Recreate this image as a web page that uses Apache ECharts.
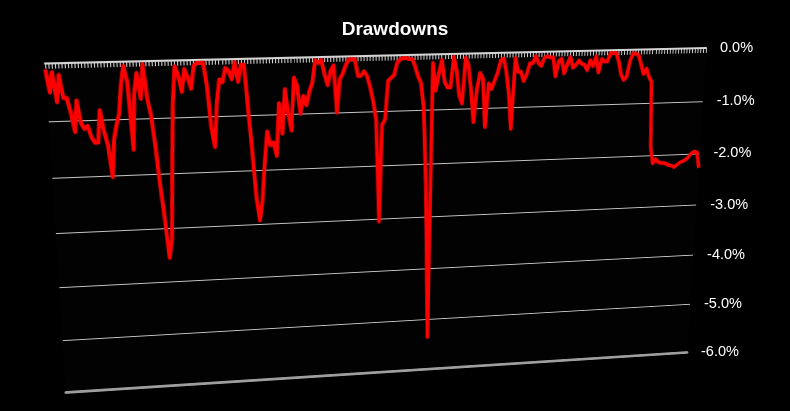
<!DOCTYPE html>
<html><head><meta charset="utf-8">
<script src="https://cdn.jsdelivr.net/npm/echarts@6/dist/echarts.min.js"></script>
<style>
html,body{margin:0;padding:0;background:#000;}
#wrap{position:relative;width:790px;height:411px;overflow:hidden;background:#000;}
.layer{position:absolute;left:0;top:0;width:700px;height:370px;transform-origin:0 0;}
#overlay{position:absolute;left:0;top:0;width:790px;height:411px;}
</style></head><body>
<div id="wrap">
<div id="plot" class="layer"></div>
<div id="line" class="layer"></div>
<div id="overlay"></div>
</div>
<script>
// ---- data (drawdown in %, one value per period) ----
const drawdown = [
-0.05,-0.45,-0.1,-0.62,-0.15,-0.55,-0.55,-0.8,-1.15,-0.6,
-1.0,-1.1,-1.05,-1.25,-1.35,-1.35,-0.78,-1.15,-1.4,-1.98,
-1.3,-1.05,-0.85,-0.35,-0.02,-0.3,-1.5,-0.5,-0.15,-0.6,
0,-0.6,-0.9,-1.5,-2.2,-2.8,-3.5,-3.15,-1.85,-0.7,
-0.05,-0.2,-0.5,-0.1,-0.25,-0.45,-0.05,0,0,0,
-0.4,-1.15,-1.5,-0.7,-0.3,-0.35,-0.1,-0.15,-0.3,0,
-0.35,-0.05,-0.05,-0.85,-1.6,-2.45,-2.88,-2.5,-1.8,-1.25,
-1.5,-1.45,-1.7,-0.75,-1.3,-0.5,-0.95,-1.25,-0.3,-0.45,
-0.95,-0.63,-0.8,-0.55,-0.4,0,-0.05,0,-0.25,-0.45,
-0.2,-0.1,-0.95,-0.35,-0.25,-0.1,0,0,0,-0.3,
-0.3,-0.22,-0.3,-0.5,-0.75,-1.1,-3.0,-1.2,-1.1,-0.4,
-0.35,-0.3,-0.08,-0.02,0,0,-0.02,-0.02,-0.15,-0.33,
-0.45,-0.9,-2.4,-5.3,-0.1,-0.6,-0.3,-0.05,-0.45,-0.55,
-0.55,0,-0.25,-0.7,-0.85,-0.02,-0.15,-0.6,-1.2,-0.6,
-0.3,-0.4,-1.3,-0.5,-0.6,-0.45,-0.3,-0.08,-0.05,-0.3,
-0.7,-1.35,-0.05,-0.3,-0.3,-0.47,-0.35,-0.15,-0.15,-0.02,
-0.15,-0.2,-0.05,-0.03,-0.05,-0.05,-0.4,-0.12,-0.08,-0.35,
-0.18,-0.05,-0.25,-0.2,-0.12,-0.18,-0.2,-0.3,-0.12,-0.23,
-0.05,-0.35,-0.1,-0.15,-0.15,0,0,0,-0.15,-0.39,
-0.5,-0.45,-0.15,-0.01,-0.02,-0.05,-0.22,-0.4,-0.3,-0.45,
-0.55,-1.8,-2.1,-2.02,-2.08,-2.1,-2.1,-2.12,-2.15,-2.16,
-2.19,-2.14,-2.1,-2.08,-2.05,-2.0,-1.93,-1.9,-1.92,-2.22
];
const periods = drawdown.map((_, i) => String(i + 1));
const yTicks = [0, -1, -2, -3, -4, -5, -6];
const yTickLabels = yTicks.map(v => v.toFixed(1) + '%');
const chartTitle = 'Drawdowns';

// ---- layout (page pixels) ----
const SRC = {left: 20, top: 20, width: 660, height: 330};
const QUAD = [[45, 63.5], [706, 48], [687, 352], [66, 392]]; // TL, TR, BR, BL
const RIBBON_DY = 3;

function homography(src, dst) {
  const A = [], b = [];
  for (let i = 0; i < 4; i++) {
    const [x, y] = src[i], [X, Y] = dst[i];
    A.push([x, y, 1, 0, 0, 0, -x * X, -y * X]); b.push(X);
    A.push([0, 0, 0, x, y, 1, -x * Y, -y * Y]); b.push(Y);
  }
  const n = 8;
  for (let c = 0; c < n; c++) {
    let p = c;
    for (let r = c + 1; r < n; r++) if (Math.abs(A[r][c]) > Math.abs(A[p][c])) p = r;
    [A[c], A[p]] = [A[p], A[c]]; [b[c], b[p]] = [b[p], b[c]];
    for (let r = 0; r < n; r++) {
      if (r === c) continue;
      const f = A[r][c] / A[c][c];
      for (let k = c; k < n; k++) A[r][k] -= f * A[c][k];
      b[r] -= f * b[c];
    }
  }
  return b.map((v, i) => v / A[i][i]); // h11 h12 h13 h21 h22 h23 h31 h32
}
function applyH(h, x, y) {
  const w = h[6] * x + h[7] * y + 1;
  return [(h[0] * x + h[1] * y + h[2]) / w, (h[3] * x + h[4] * y + h[5]) / w];
}
function cssMatrix(h) {
  return `matrix3d(${h[0]},${h[3]},0,${h[6]},${h[1]},${h[4]},0,${h[7]},0,0,1,0,${h[2]},${h[5]},0,1)`;
}
const srcCorners = [
  [SRC.left, SRC.top], [SRC.left + SRC.width, SRC.top],
  [SRC.left + SRC.width, SRC.top + SRC.height], [SRC.left, SRC.top + SRC.height]
];
const H = homography(srcCorners, QUAD);
const Hr = homography(srcCorners, QUAD.map(p => [p[0], p[1] + RIBBON_DY]));
document.getElementById('plot').style.transform = cssMatrix(H);
document.getElementById('line').style.transform = cssMatrix(Hr);

const grid = {left: SRC.left, top: SRC.top, width: SRC.width, height: SRC.height};
const font = '"Liberation Sans", Arial, sans-serif';

// ---- back wall: axes & gridlines ----
const plot = echarts.init(document.getElementById('plot'), null, {renderer: 'svg'});
plot.setOption({
  animation: false,
  grid: Object.assign({show: true, backgroundColor: '#020202', borderWidth: 0}, grid),
  xAxis: [{
    type: 'category', data: periods, boundaryGap: false, position: 'top',
    axisLine: {show: true, onZero: false, lineStyle: {color: '#d4d4d4', width: 2}},
    axisTick: {show: true, interval: 0, inside: true, length: 5, lineStyle: {color: '#d4d4d4', width: 1}},
    axisLabel: {show: false}, splitLine: {show: false}
  }, {
    type: 'category', data: periods, boundaryGap: false, position: 'bottom',
    axisLine: {show: true, onZero: false, lineStyle: {color: '#9e9e9e', width: 3}},
    axisTick: {show: false}, axisLabel: {show: false}, splitLine: {show: false}
  }],
  yAxis: {
    type: 'value', min: -6, max: 0, interval: 1,
    axisLine: {show: false}, axisTick: {show: false}, axisLabel: {show: false},
    splitLine: {show: true, lineStyle: {color: '#c4c4c4', width: 1}}
  },
  series: []
});

// ---- ribbon: drawdown line ----
const line = echarts.init(document.getElementById('line'), null, {renderer: 'svg'});
line.setOption({
  animation: false,
  grid: grid,
  xAxis: {type: 'category', data: periods, boundaryGap: false, show: false},
  yAxis: {type: 'value', min: -6, max: 0, interval: 1, show: false},
  series: [{
    type: 'line', data: drawdown, showSymbol: false, symbol: 'none',
    lineStyle: {color: '#ff0000', width: 3.8, join: 'round'}
  }]
});

// ---- upright texts: title & value labels ----
const overlay = echarts.init(document.getElementById('overlay'));
const labelGraphics = yTicks.map((v, i) => {
  const p = plot.convertToPixel({xAxisIndex: 0, yAxisIndex: 0}, [periods.length - 1, v]);
  const q = applyH(H, p[0], p[1]);
  return {
    type: 'text', x: q[0] + 14, y: q[1],
    style: {text: yTickLabels[i], fill: '#ffffff', font: `14.5px ${font}`,
            textAlign: 'left', textVerticalAlign: 'middle'}
  };
});
overlay.setOption({
  animation: false,
  title: {text: chartTitle, left: 'center', top: 15,
          textStyle: {color: '#ffffff', fontSize: 19, fontWeight: 'bold', fontFamily: font}},
  graphic: labelGraphics
});
</script>
</body></html>
